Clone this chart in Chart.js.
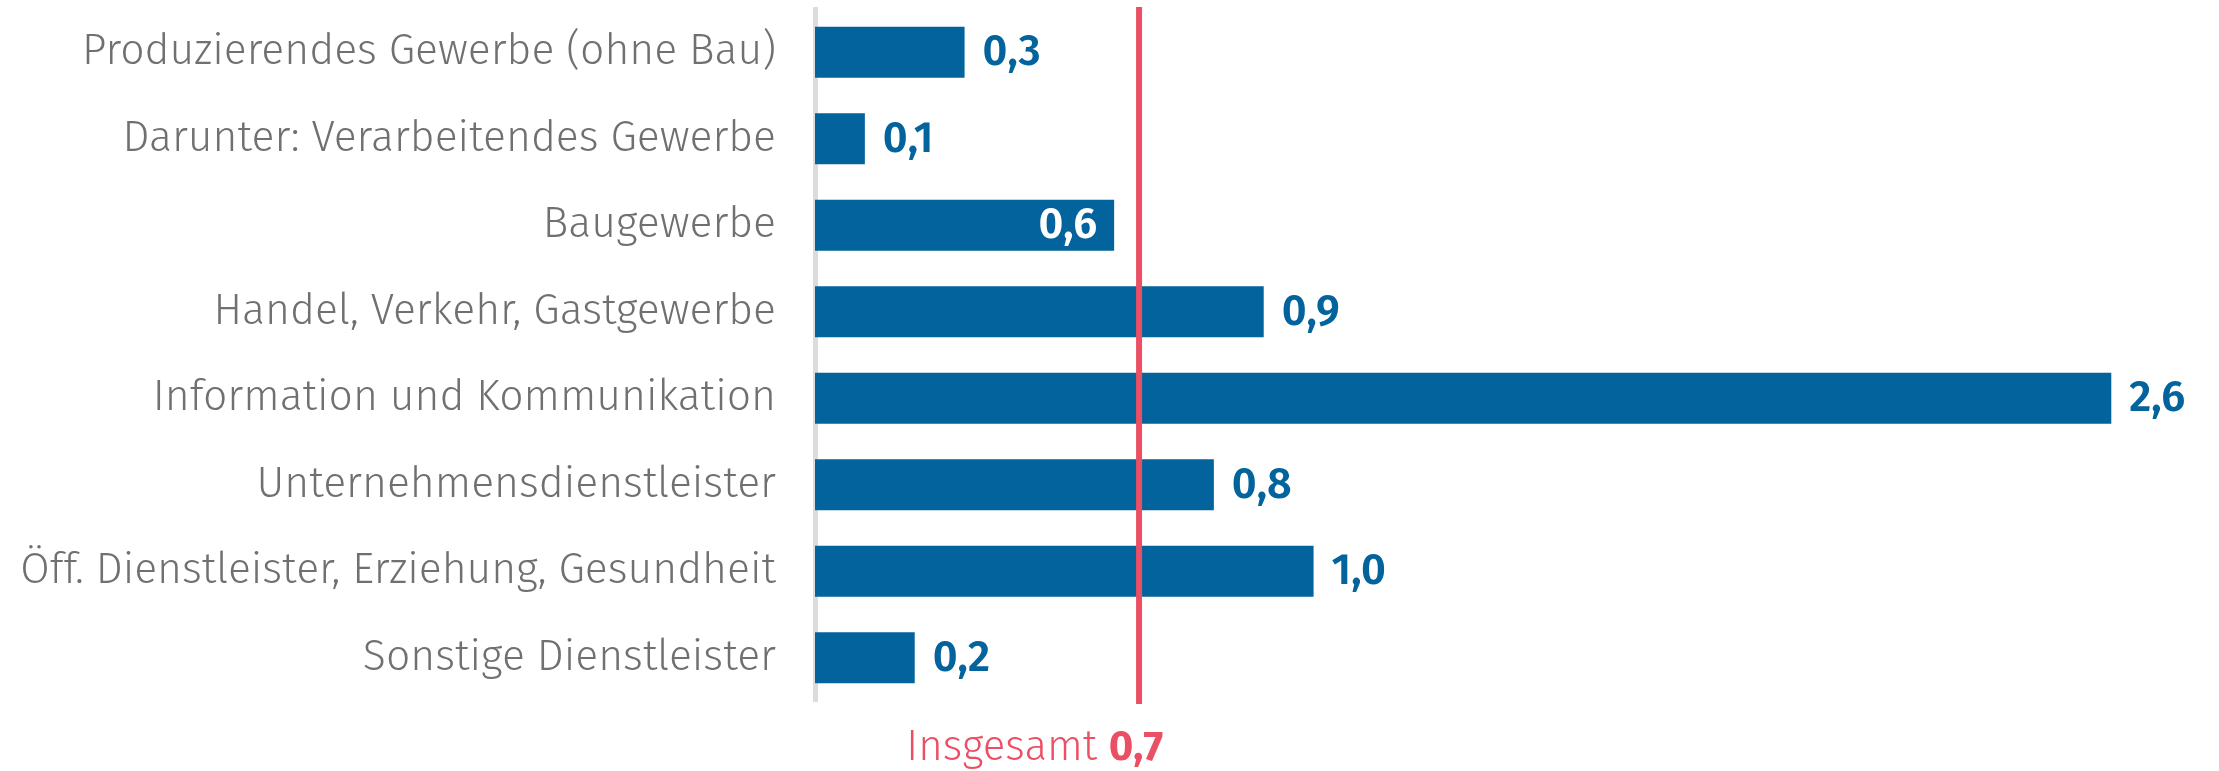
<!DOCTYPE html>
<html>
<head>
<meta charset="utf-8">
<script src="https://cdn.jsdelivr.net/npm/chart.js@4"></script>
<style>
  html, body { margin: 0; padding: 0; background: #ffffff; }
  #wrap { width: 2219px; height: 771px; position: relative; }
</style>
</head>
<body>
<div id="wrap"><canvas id="c"></canvas></div>
<script>
const categories = [
  "Produzierendes Gewerbe (ohne Bau)",
  "Darunter: Verarbeitendes Gewerbe",
  "Baugewerbe",
  "Handel, Verkehr, Gastgewerbe",
  "Information und Kommunikation",
  "Unternehmensdienstleister",
  "Öff. Dienstleister, Erziehung, Gesundheit",
  "Sonstige Dienstleister"
];
const values = [0.3, 0.1, 0.6, 0.9, 2.6, 0.8, 1.0, 0.2];
const totalLabel = "Insgesamt";
const totalValue = 0.65;

const BAR_COLOR = "#03639c";
const RED = "#ea4f63";
const LIGHT_FONT = "'Fira Sans', Roboto, 'Open Sans', sans-serif";

function fmt(v) { return v.toFixed(1).replace('.', ','); }

const overlayPlugin = {
  id: 'overlay',
  afterDatasetsDraw(chart) {
    const ctx = chart.ctx;
    const xs = chart.scales.x;
    const area = chart.chartArea;
    const lineX = xs.getPixelForValue(totalValue);

    // value labels
    const meta = chart.getDatasetMeta(0);
    ctx.save();
    ctx.font = "600 43px " + LIGHT_FONT;
    ctx.textBaseline = 'middle';
    meta.data.forEach((bar, i) => {
      const v = values[i];
      const t = fmt(v);
      const w = ctx.measureText(t).width;
      const outsideX = bar.x + 18;
      if (v < totalValue && outsideX + w > lineX - 4) {
        ctx.fillStyle = '#ffffff';
        ctx.textAlign = 'right';
        ctx.fillText(t, bar.x - 17, bar.y + 1);
      } else {
        ctx.fillStyle = BAR_COLOR;
        ctx.textAlign = 'left';
        ctx.fillText(t, outsideX, bar.y + 1);
      }
    });
    ctx.restore();

    // total line
    ctx.save();
    ctx.strokeStyle = RED;
    ctx.lineWidth = 6;
    ctx.beginPath();
    ctx.moveTo(lineX, area.top - 2);
    ctx.lineTo(lineX, area.bottom + 3);
    ctx.stroke();

    // total label
    const t1 = totalLabel + " ";
    const t2 = fmt(totalValue);
    ctx.textBaseline = 'middle';
    ctx.textAlign = 'left';
    ctx.font = "300 42px " + LIGHT_FONT;
    const w1 = ctx.measureText(t1).width;
    ctx.font = "700 42px " + LIGHT_FONT;
    const w2 = ctx.measureText(t2).width;
    const endX = lineX + 24;
    const startX = endX - w1 - w2;
    const y = area.bottom + 47;
    ctx.fillStyle = RED;
    ctx.font = "300 42px " + LIGHT_FONT;
    ctx.fillText(t1, startX, y);
    ctx.font = "700 42px " + LIGHT_FONT;
    ctx.fillText(t2, startX + w1, y);
    ctx.restore();
  }
};

new Chart(document.getElementById('c'), {
  type: 'bar',
  data: {
    labels: categories,
    datasets: [{
      data: values,
      backgroundColor: BAR_COLOR,
      borderWidth: 0,
      categoryPercentage: 1.0,
      barPercentage: 0.59
    }]
  },
  options: {
    indexAxis: 'y',
    responsive: true,
    maintainAspectRatio: false,
    animation: false,
    devicePixelRatio: 1,
    layout: { padding: { top: 9, bottom: 70, left: 0, right: 8 } },
    plugins: { legend: { display: false }, tooltip: { enabled: false } },
    scales: {
      x: { type: 'linear', min: 0, max: 2.8, display: false },
      y: {
        position: 'left',
        z: 1,
        grid: { display: false, drawTicks: false },
        border: { display: true, color: '#dcdcdc', width: 5 },
        ticks: {
          padding: 39,
          color: '#707070',
          font: { family: LIGHT_FONT, size: 42.7, weight: '300' }
        },
        afterFit(scale) {
          scale.width = 815;
          scale.paddingTop = 0;
          scale.paddingBottom = 0;
        }
      }
    }
  },
  plugins: [overlayPlugin]
});
</script>
</body>
</html>
